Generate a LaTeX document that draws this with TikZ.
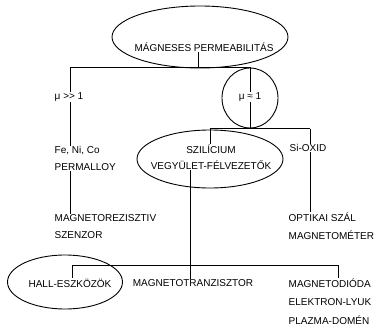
\documentclass[tikz,border=0pt]{standalone}
\usepackage{fontspec}
\setmainfont{Liberation Sans}[Ligatures=NoCommon]
\usetikzlibrary{shapes.geometric}
\begin{document}
\begin{tikzpicture}[x=1pt,y=-1pt,
  lbl/.style={inner sep=0.5pt,font=\fontsize{10}{17}\selectfont},
  lblw/.style={lbl,anchor=west,align=left},
  oval/.style={draw,ellipse,line width=0.9pt,inner sep=0pt},
  conn/.style={line width=0.5pt}]
\useasboundingbox (0,0) rectangle (378,327);
% shapes
\node[oval,minimum width=176,minimum height=62] (permE) at (200,37) {};
\node[oval,minimum width=56,minimum height=60] (mu2E) at (250,98) {};
\node[oval,minimum width=146,minimum height=58] (szilE) at (210,159) {};
\node[oval,minimum width=115,minimum height=54] (hallE) at (65,282) {};
% texts
\node[lbl] (perm) at (204,47) {MÁGNESES PERMEABILITÁS};
\node[lbl] (mu1) at (69,97) {μ {>}{>} 1};
\node[lbl] (mu2) at (250,97) {μ ≈ 1};
\node[lblw] (fe) at (54,158.5) {Fe, Ni, Co\\PERMALLOY};
\node[lblw] (magr) at (54,226.5) {MAGNETOREZISZTIV\\SZENZOR};
\node[lbl,align=center,font=\fontsize{10}{16}\selectfont] (szil) at (211,157) {SZILÍCIUM\\VEGYÜLET-FÉLVEZETŐK};
\node[lblw] (siox) at (289,148) {Si-OXID};
\node[lblw,font=\fontsize{10}{18}\selectfont] (opt) at (288,226) {OPTIKAI SZÁL\\MAGNETOMÉTER};
\node[lbl] (hall) at (70,283) {HALL-ESZKÖZÖK};
\node[lbl] (mtr) at (193,283) {MAGNETOTRANZISZTOR};
\node[lblw,font=\fontsize{10}{18.5}\selectfont] (mdi) at (288,301.5) {MAGNETODIÓDA\\ELEKTRON-LYUK\\PLAZMA-DOMÉN};
% junctions
\coordinate (j1) at (198,67);
\coordinate (jL) at (70,67);
\coordinate (jR) at (250,67);
\coordinate (j2) at (250,128.5);
\coordinate (j2L) at (210,128.5);
\coordinate (j2R) at (310,128.5);
\coordinate (j3) at (190,265);
\coordinate (j3L) at (72,265);
\coordinate (j3R) at (338,265);
% connectors
\draw[conn] (perm.south -| j1) -- (j1);
\draw[conn] (jL) -- (jR);
\draw[conn] (jL) -- (jL |- mu1.north);
\draw[conn] (jL |- mu1.south) -- (jL |- fe.north);
\draw[conn] (jL |- fe.south) -- (jL |- magr.north);
\draw[conn] (jR) -- (mu2.north);
\draw[conn] (mu2.south) -- (j2);
\draw[conn] (j2L) -- (j2R);
\draw[conn] (j2L) -- (j2L |- szil.north);
\draw[conn] (j2R) -- (j2R |- siox.north);
\draw[conn] (j2R |- siox.south) -- (j2R |- opt.north);
\draw[conn] (szil.south -| j3) -- (j3 |- mtr.north);
\draw[conn] (j3L) -- (j3R);
\draw[conn] (j3L) -- (j3L |- hall.north);
\draw[conn] (j3R) -- (j3R |- mdi.north);
\end{tikzpicture}
\end{document}
